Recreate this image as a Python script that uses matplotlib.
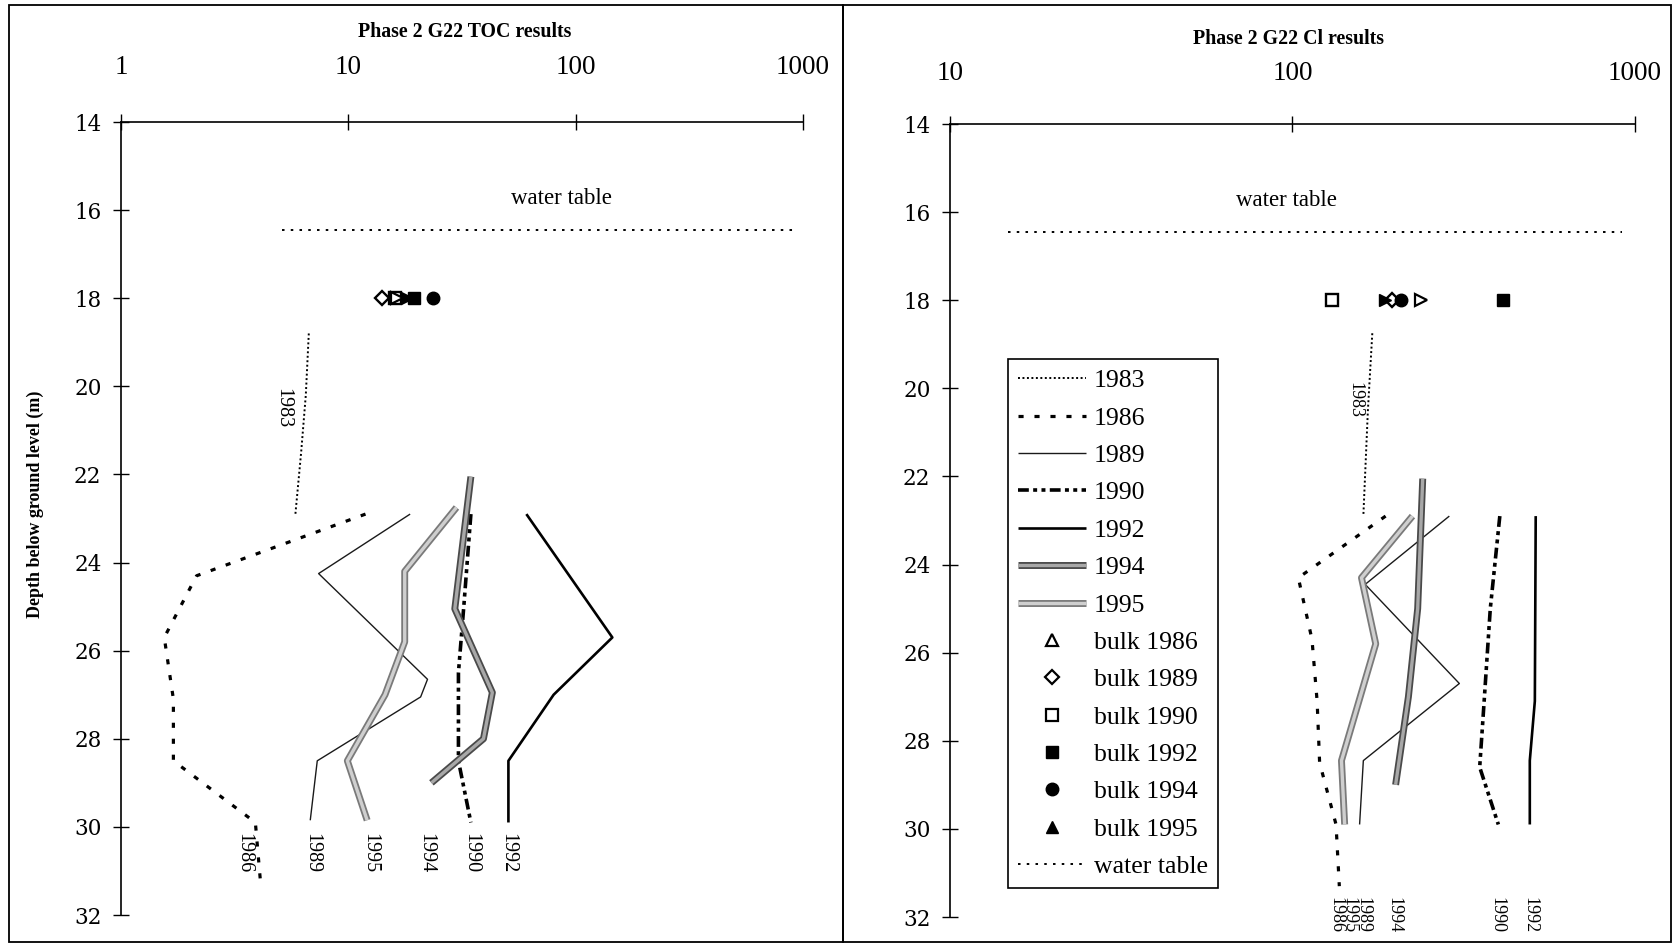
import matplotlib
matplotlib.use('Agg')
import matplotlib.pyplot as plt
from matplotlib.lines import Line2D
from matplotlib.patches import Rectangle
import matplotlib.patheffects as pe
from matplotlib.ticker import NullLocator

SERIF = ['Liberation Serif', 'DejaVu Serif']
plt.rcParams['font.family'] = SERIF

# ---------------- data ----------------
toc_ticks = [1, 10, 100, 1000]
cl_ticks = [10, 100, 1000]
depth_ticks = [14, 16, 18, 20, 22, 24, 26, 28, 30, 32]
water_table_depth = 16.45

# TOC profiles (depth m, value)
toc_1983_d = [18.8, 20.2, 21.5, 22.9]
toc_1983_v = [6.7, 6.5, 6.2, 5.85]
toc_1986_d = [22.9, 24.3, 25.7, 27.1, 28.5, 29.9, 31.2]
toc_1986_v = [11.9, 2.15, 1.55, 1.7, 1.7, 3.9, 4.1]
toc_1989_d = [22.9, 24.25, 26.65, 27.05, 28.5, 29.85]
toc_1989_v = [18.7, 7.4, 22.3, 20.8, 7.3, 6.8]
toc_1990_d = [22.9, 25.0, 26.5, 28.5, 29.9]
toc_1990_v = [34.6, 32.2, 30.5, 30.5, 34.6]
toc_1992_d = [22.9, 25.7, 27.0, 28.5, 29.9]
toc_1992_v = [60.7, 145, 80, 50.6, 50.6]
toc_1994_d = [22.05, 25.05, 26.95, 28.0, 29.0]
toc_1994_v = [34.6, 29.4, 43.0, 39.3, 23.2]
toc_1995_d = [22.75, 24.2, 25.8, 27.0, 28.5, 29.85]
toc_1995_v = [29.9, 17.7, 17.7, 14.5, 9.9, 12.1]
toc_bulk_years = ['1986', '1989', '1990', '1992', '1994', '1995']
toc_bulk_v = [16.4, 14.1, 16.1, 19.4, 23.6, 18.2]
toc_bulk_d = 18.0
toc_wt_v = [5.1, 900]

# Cl profiles
cl_1983_d = [18.75, 20.5, 22.9]
cl_1983_v = [171, 166, 161]
cl_1986_d = [22.9, 24.3, 25.7, 27.1, 28.5, 29.9, 31.3]
cl_1986_v = [187, 104, 114, 118, 120, 134, 137]
cl_1989_d = [22.9, 24.45, 26.7, 28.45, 29.9]
cl_1989_v = [287, 163, 307, 161, 157]
cl_1990_d = [22.9, 25.0, 27.2, 28.6, 29.9]
cl_1990_v = [403, 378, 362, 352, 399]
cl_1992_d = [22.9, 27.1, 28.45, 29.9]
cl_1992_v = [513, 510, 493, 493]
cl_1994_d = [22.05, 25.0, 27.0, 29.0]
cl_1994_v = [240, 232, 218, 200]
cl_1995_d = [22.9, 24.3, 25.8, 28.45, 29.9]
cl_1995_v = [224, 159, 175, 139, 142]
cl_bulk_years = ['1986', '1989', '1990', '1992', '1994', '1995']
cl_bulk_v = [238, 195, 130, 413, 208, 186]
cl_bulk_d = 18.0
cl_wt_v = [14.8, 916]

years = ['1983', '1986', '1989', '1990', '1992', '1994', '1995']

# label positions (value, depth)
toc_labels = {'1983': (5.17, 20.5), '1986': (3.47, 30.6), '1989': (6.9, 30.6),
              '1995': (12.4, 30.6), '1994': (22.0, 30.6), '1990': (34.6, 30.6),
              '1992': (50.2, 30.6)}
cl_labels = {'1983': (152, 20.27), '1986': (134, 31.95), '1995': (146, 31.95),
             '1989': (161, 31.95), '1994': (198, 31.95), '1990': (394, 31.95),
             '1992': (492, 31.95)}

toc_series = {'1983': (toc_1983_d, toc_1983_v), '1986': (toc_1986_d, toc_1986_v),
              '1989': (toc_1989_d, toc_1989_v), '1990': (toc_1990_d, toc_1990_v),
              '1992': (toc_1992_d, toc_1992_v), '1994': (toc_1994_d, toc_1994_v),
              '1995': (toc_1995_d, toc_1995_v)}
cl_series = {'1983': (cl_1983_d, cl_1983_v), '1986': (cl_1986_d, cl_1986_v),
             '1989': (cl_1989_d, cl_1989_v), '1990': (cl_1990_d, cl_1990_v),
             '1992': (cl_1992_d, cl_1992_v), '1994': (cl_1994_d, cl_1994_v),
             '1995': (cl_1995_d, cl_1995_v)}

# ---------------- styles ----------------
line_styles = {
    '1983': dict(color='black', lw=1.4, ls=(0, (1.0, 1.3))),
    '1986': dict(color='black', lw=2.3, ls=(0, (1.6, 3.4))),
    '1989': dict(color='#1a1a1a', lw=1.0, ls='-'),
    '1990': dict(color='black', lw=2.6, ls=(0, (3.0, 1.2, 1.1, 1.2, 1.1, 1.2))),
    '1992': dict(color='black', lw=1.9, ls='-'),
    '1994': dict(color='#a8a8a8', lw=2.4, ls='-',
                 path_effects=[pe.Stroke(linewidth=5.0, foreground='#4a4a4a'), pe.Normal()]),
    '1995': dict(color='#cfcfcf', lw=2.4, ls='-',
                 path_effects=[pe.Stroke(linewidth=5.0, foreground='#7a7a7a'), pe.Normal()]),
}
bulk_styles = {
    '1986': dict(marker='>', mfc='white', mec='black', mew=1.6, ms=8.5),
    '1989': dict(marker='D', mfc='white', mec='black', mew=1.7, ms=7),
    '1990': dict(marker='s', mfc='none', mec='black', mew=1.7, ms=8.5),
    '1992': dict(marker='s', mfc='black', mec='black', mew=1.0, ms=8.5),
    '1994': dict(marker='o', mfc='black', mec='black', mew=1.0, ms=9),
    '1995': dict(marker='>', mfc='black', mec='black', mew=1.0, ms=8.5),
}
bulk_order = ['1989', '1990', '1986', '1995', '1992', '1994']
wt_style = dict(color='black', lw=1.4, ls=(0, (1.3, 3.2)))

W, H = 1674, 946
fig = plt.figure(figsize=(W / 100, H / 100), dpi=100)


def fx(px):
    return px / W


def fy(py):
    return 1 - py / H


# panel borders
for x0, x1 in [(9, 843), (843, 1671)]:
    fig.add_artist(Rectangle((fx(x0), fy(942)), fx(x1) - fx(x0), fy(5) - fy(942),
                             transform=fig.transFigure, fill=False, lw=1.3, ec='black'))

ax1 = fig.add_axes([fx(121), fy(915), fx(803) - fx(121), fy(122) - fy(915)])
ax2 = fig.add_axes([fx(950), fy(917), fx(1635) - fx(950), fy(124) - fy(917)])


def style_axes(ax, xticks, xlim, xpad):
    ax.set_xscale('log')
    ax.set_xlim(*xlim)
    ax.set_ylim(32, 14)
    ax.set_xticks(xticks, labels=[str(t) for t in xticks])
    ax.set_yticks(depth_ticks, labels=[str(t) for t in depth_ticks],
                  fontfamily='DejaVu Serif', fontsize=15.5)
    ax.xaxis.set_minor_locator(NullLocator())
    for s in ['bottom', 'right']:
        ax.spines[s].set_visible(False)
    for s in ['left', 'top']:
        ax.spines[s].set_linewidth(1.2)
    ax.tick_params(axis='x', which='both', top=True, bottom=False, labeltop=True,
                   labelbottom=False, direction='inout', length=11, width=1.0,
                   pad=xpad, labelsize=19.5)
    ax.tick_params(axis='y', direction='inout', length=12, width=1.0, pad=8)
    ax.patch.set_visible(False)


style_axes(ax1, toc_ticks, (1, 1000), 25)
style_axes(ax2, cl_ticks, (10, 1000), 22)

# TOC chart
for y in years:
    d, v = toc_series[y]
    ax1.plot(v, d, **line_styles[y], solid_capstyle='butt', dash_capstyle='butt')
ax1.plot(toc_wt_v, [water_table_depth] * 2, **wt_style)
for y in bulk_order:
    i = toc_bulk_years.index(y)
    ax1.plot([toc_bulk_v[i]], [toc_bulk_d], ls='none', **bulk_styles[y])
for y, (v, d) in toc_labels.items():
    ax1.text(v, d, y, rotation=270, ha='center', va='center', fontsize=14.5)
ax1.text(86.6, 15.73, 'water table', ha='center', va='center', fontsize=16.5)

# Cl chart
handles = []
for y in years:
    d, v = cl_series[y]
    ln, = ax2.plot(v, d, **line_styles[y], solid_capstyle='butt',
                   dash_capstyle='butt', label=y)
    handles.append(ln)
wt_line, = ax2.plot(cl_wt_v, [water_table_depth] * 2, **wt_style, label='water table')
for y in bulk_order:
    i = cl_bulk_years.index(y)
    ax2.plot([cl_bulk_v[i]], [cl_bulk_d], ls='none', **bulk_styles[y])
for y, (v, d) in cl_labels.items():
    ax2.text(v, d, y, rotation=270, ha='center', va='center', fontsize=13)
ax2.text(96, 15.73, 'water table', ha='center', va='center', fontsize=16.5)

legend_markers = {
    '1986': dict(marker='^', mfc='white', mec='black', mew=1.6, ms=8.5),
    '1989': dict(marker='D', mfc='white', mec='black', mew=1.6, ms=7),
    '1990': dict(marker='s', mfc='white', mec='black', mew=1.6, ms=8.5),
    '1992': dict(marker='s', mfc='black', mec='black', mew=1.0, ms=8.5),
    '1994': dict(marker='o', mfc='black', mec='black', mew=1.0, ms=9),
    '1995': dict(marker='^', mfc='black', mec='black', mew=1.0, ms=9),
}
for y in ['1986', '1989', '1990', '1992', '1994', '1995']:
    handles.append(Line2D([], [], ls='none', label='bulk ' + y, **legend_markers[y]))
handles.append(wt_line)

leg = fig.legend(handles=handles, loc='upper left',
                 bbox_to_anchor=(fx(1008), fy(359)), bbox_transform=fig.transFigure,
                 borderaxespad=0, fontsize=18.5, handlelength=2.65, handletextpad=0.3,
                 labelspacing=0.56, borderpad=0.4, fancybox=False, framealpha=1,
                 edgecolor='black')
leg.get_frame().set_linewidth(1.2)

fig.text(fx(465), fy(32), 'Phase 2 G22 TOC results', ha='center', va='center',
         fontsize=14.3, fontweight='bold')
fig.text(fx(1289), fy(39), 'Phase 2 G22 Cl results', ha='center', va='center',
         fontsize=14.3, fontweight='bold')
fig.text(fx(35), fy(504), 'Depth below ground level (m)', rotation=90, ha='center',
         va='center', fontsize=13, fontweight='bold')

fig.savefig('out.png', dpi=100)
